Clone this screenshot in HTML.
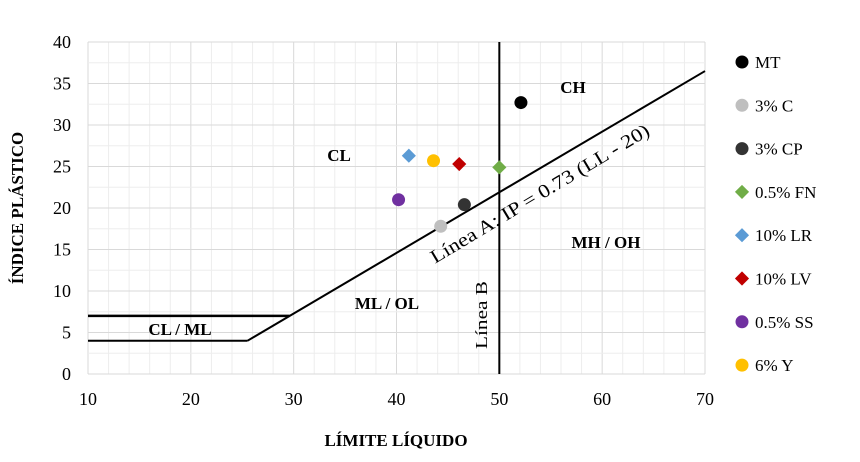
<!DOCTYPE html>
<html><head><meta charset="utf-8"><style>
body{margin:0;background:#fff;}
svg text{font-family:"Liberation Serif",serif;}
</style></head><body>
<svg width="860" height="457" xmlns="http://www.w3.org/2000/svg">
<g id="grid"></g>
<g id="axes"></g>
<g id="lines"></g>
<g id="pts"></g>
<g id="legend"></g>
<text x="573" y="93" font-size="17" font-weight="bold" text-anchor="middle">CH</text>
<text x="339" y="161" font-size="17" font-weight="bold" text-anchor="middle">CL</text>
<text x="606" y="248" font-size="17" font-weight="bold" text-anchor="middle">MH / OH</text>
<text x="387" y="309" font-size="17" font-weight="bold" text-anchor="middle">ML / OL</text>
<text x="180" y="335" font-size="17" font-weight="bold" text-anchor="middle">CL / ML</text>
<text transform="translate(487,315) rotate(-90)" font-size="17" text-anchor="middle" textLength="68" lengthAdjust="spacingAndGlyphs">Línea  B</text>
<text transform="translate(543,199) rotate(-31)" font-size="19" text-anchor="middle" textLength="252" lengthAdjust="spacingAndGlyphs">Línea  A: IP = 0.73 (LL - 20)</text>
<text x="396" y="446" font-size="17" font-weight="bold" text-anchor="middle">LÍMITE LÍQUIDO</text>
<text transform="translate(23,208) rotate(-90)" font-size="17" font-weight="bold" text-anchor="middle">ÍNDICE PLÁSTICO</text>
</svg>
<script>
const names=["MT","3% C","3% CP","0.5% FN","10% LR","10% LV","0.5% SS","6% Y"];
const ll=[52.1,44.3,46.6,50.0,41.2,46.1,40.2,43.6];
const ip=[32.7,17.8,20.4,24.9,26.3,25.3,21.0,25.7];
const colors=["#000000","#bfbfbf","#333333","#70ad47","#5b9bd5","#c00000","#7030a0","#ffc000"];
const shapes=["c","c","c","d","d","d","c","c"];
const xTicks=[10,20,30,40,50,60,70];
const yTicks=[0,5,10,15,20,25,30,35,40];
const NS="http://www.w3.org/2000/svg";
const X=v=>88+(v-10)*(617/60), Y=v=>374-v*(332/40);
function mk(p,t,a){const e=document.createElementNS(NS,t);for(const k in a)e.setAttribute(k,a[k]);document.getElementById(p).appendChild(e);return e;}
for(let v=10;v<=70;v+=2){const e=mk("grid","line",{x1:X(v),x2:X(v),y1:Y(0),y2:Y(40),stroke:v%10===0?"#d9d9d9":"#ededed","stroke-width":1});

}
for(let v=0;v<=40;v+=2.5){const e=mk("grid","line",{x1:X(10),x2:X(70),y1:Y(v),y2:Y(v),stroke:v%5===0?"#d9d9d9":"#ededed","stroke-width":1});

}
xTicks.forEach(v=>{const t=mk("axes","text",{x:X(v),y:405,"font-size":18,"text-anchor":"middle"});t.textContent=v;

});
yTicks.forEach(v=>{const t=mk("axes","text",{x:71,y:Y(v)+6,"font-size":18,"text-anchor":"end"});t.textContent=v;

});
const L=(a,b,c,d,n,w)=>{const e=mk("lines","line",{x1:X(a),y1:Y(b),x2:X(c),y2:Y(d),stroke:"#000","stroke-width":w||2});

};
L(10,7,29.6,7,"cl-ml-upper-line",2.5);
L(10,4,25.5,4,"cl-ml-lower-line");
L(25.5,4,70,0.73*50,"line-a");
L(50,0,50,40,"line-b");
function marker(g,cx,cy,i){let e;
if(shapes[i]==="c")e=mk(g,"circle",{cx:cx,cy:cy,r:6.5,fill:colors[i]});
else e=mk(g,"rect",{x:cx-5,y:cy-5,width:10,height:10,fill:colors[i],transform:`rotate(45 ${cx} ${cy})`});
return e;}
names.forEach((n,i)=>{const e=marker("pts",X(ll[i]),Y(ip[i]),i);


const ly=62+i*43.3;const m=marker("legend",742,ly,i);


const t=mk("legend","text",{x:755,y:ly+6,"font-size":17});t.textContent=n;

});
</script>
</body></html>
